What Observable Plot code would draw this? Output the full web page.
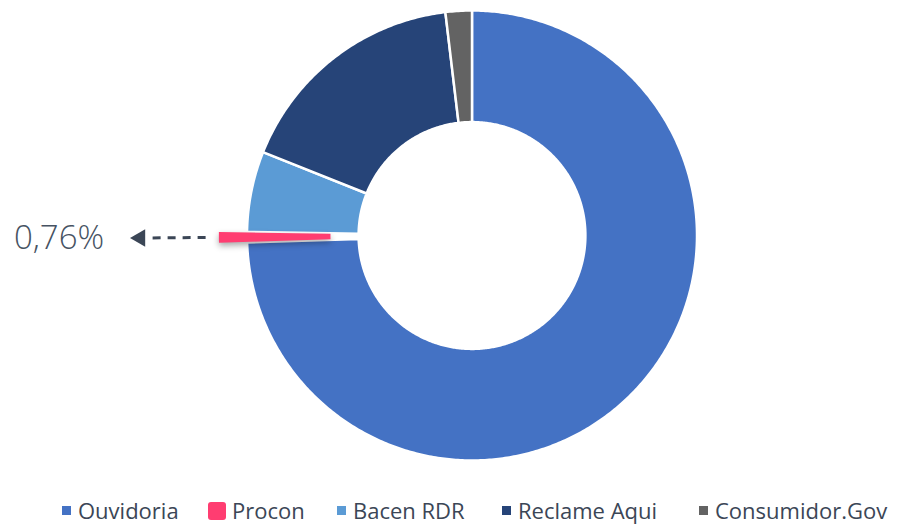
<!DOCTYPE html>
<html>
<head>
<meta charset="utf-8">
<script src="https://cdn.jsdelivr.net/npm/d3@7"></script>
<script src="https://cdn.jsdelivr.net/npm/@observablehq/plot@0.6"></script>
<style>
  html, body { margin: 0; padding: 0; background: #fff; }
  #chart { width: 903px; height: 488px; }
  #chart svg { display: block; }
  #legend { position: relative; width: 903px; height: 37px; font-family: "Open Sans", sans-serif; font-size: 22px; line-height: 29px; color: #3b4656; }
  .item { position: absolute; top: 8px; display: flex; align-items: center; height: 29px; white-space: nowrap; }
  .sw { display: inline-block; width: 9px; height: 9px; margin-right: 7px; }
  .sw.big { width: 18px; height: 18px; border-radius: 3px; margin-right: 6px; }
</style>
</head>
<body>
<div id="chart"></div>
<div id="legend"></div>
<script>
// ---- data ----
const categories = ["Ouvidoria", "Procon", "Bacen RDR", "Reclame Aqui", "Consumidor.Gov"];
const shares = [74.5, 0.76, 5.78, 17.07, 1.89];
const colors = ["#4472C4", "#FF3D71", "#5B9BD5", "#264478", "#636363"];
const calloutCategory = "Procon";
const calloutLabel = "0,76%";

// ---- layout ----
const W = 903, H = 488;
const cx = 471.5, cy = 235, R = 225;
const inner = 0.504;
const explode = 0.125;

const slices = d3.pie().sort(null).value(d => d.v)(categories.map((c, i) => ({c, v: shares[i]})));

function slicePoints(s) {
  const pts = [];
  const off = s.data.c === calloutCategory ? explode : 0;
  const mid = (s.startAngle + s.endAngle) / 2;
  const ox = Math.sin(mid) * off, oy = -Math.cos(mid) * off;
  const n = Math.max(4, Math.ceil((s.endAngle - s.startAngle) / 0.01));
  for (let k = 0; k <= n; k++) {
    const a = s.startAngle + (s.endAngle - s.startAngle) * k / n;
    pts.push({c: s.data.c, x: ox + Math.sin(a), y: oy - Math.cos(a)});
  }
  for (let k = n; k >= 0; k--) {
    const a = s.startAngle + (s.endAngle - s.startAngle) * k / n;
    pts.push({c: s.data.c, x: ox + Math.sin(a) * inner, y: oy - Math.cos(a) * inner});
  }
  return pts;
}

const mainPts = slices.filter(s => s.data.c !== calloutCategory).flatMap(slicePoints);
const callSlice = slices.find(s => s.data.c === calloutCategory);
const callPts = slicePoints(callSlice);
const mid = (callSlice.startAngle + callSlice.endAngle) / 2;
const at = r => ({x: Math.sin(mid) * r, y: -Math.cos(mid) * r});
const linkStart = at(1.184), linkEnd = at(1.44), tip = at(1.475), lab = at(1.635);

const color = {domain: categories, range: colors};

const plot = Plot.plot({
  width: W, height: H,
  margin: 0,
  x: {domain: [-cx / R, (W - cx) / R], range: [0, W], axis: null},
  y: {domain: [-cy / R, (H - cy) / R], range: [0, H], axis: null},
  color,
  style: {fontFamily: "Open Sans, sans-serif", background: "white"},
  marks: [
    Plot.line(mainPts, {x: "x", y: "y", z: "c", fill: "c", stroke: "white", strokeWidth: 2.5, curve: "linear-closed"}),
    Plot.line(callPts, {x: "x", y: "y", z: "c", fill: "c", stroke: "none", curve: "linear-closed"}),
    Plot.link([{x1: linkStart.x, y1: linkStart.y, x2: linkEnd.x, y2: linkEnd.y}], {x1: "x1", y1: "y1", x2: "x2", y2: "y2", stroke: "#3b4656", strokeWidth: 3, strokeDasharray: "8,7"}),
    Plot.dot([tip], {x: "x", y: "y", symbol: "triangle", rotate: -90, r: 6.5, fill: "#3b4656", stroke: "none"}),
    Plot.text([{...lab, t: calloutLabel}], {x: "x", y: "y", text: "t", textAnchor: "end", fontSize: 33, fontWeight: 300, fill: "#465262"})
  ]
});
document.getElementById("chart").appendChild(plot);
const lines = plot.querySelectorAll('g[aria-label="line"]');
if (lines[1]) lines[1].style.filter = "drop-shadow(0px 3px 3px rgba(0,0,0,0.35))";

// legend
const lefts = [62, 208, 337, 502, 699];
const leg = document.getElementById("legend");
categories.forEach((c, i) => {
  const it = document.createElement("div");
  it.className = "item";
  it.style.left = lefts[i] + "px";
  const sw = document.createElement("span");
  sw.className = "sw" + (c === calloutCategory ? " big" : "");
  sw.style.background = colors[i];
  const tx = document.createElement("span");
  tx.textContent = c;
  it.appendChild(sw); it.appendChild(tx);
  leg.appendChild(it);
});
</script>
</body>
</html>
